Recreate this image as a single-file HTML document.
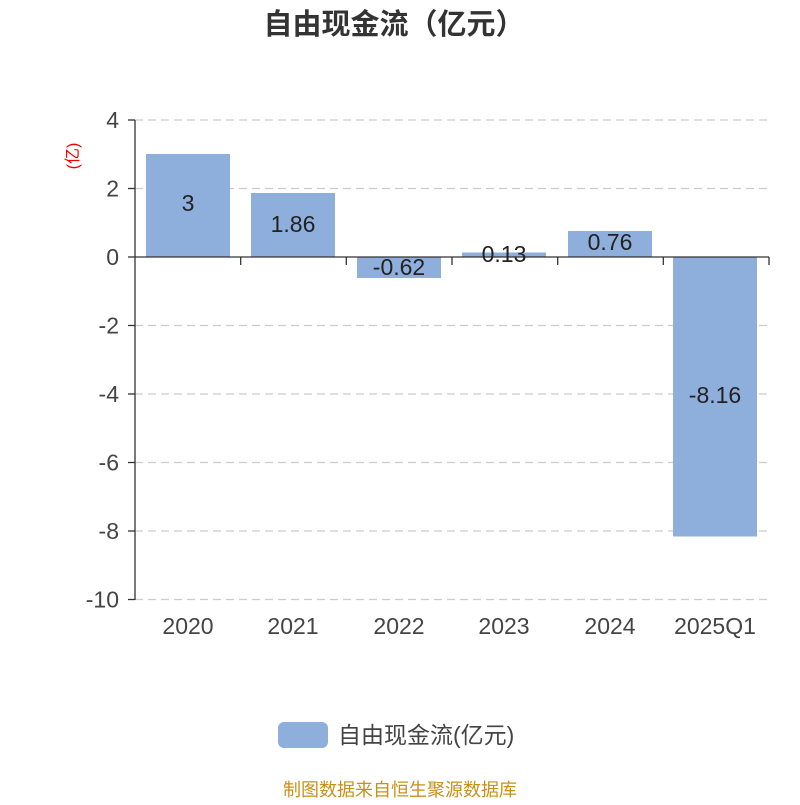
<!DOCTYPE html>
<html><head><meta charset="utf-8"><style>
body{margin:0;background:#fff;}
svg text{font-family:"Liberation Sans","Noto Sans CJK SC",sans-serif;}
</style></head><body>
<svg width="800" height="800" xmlns="http://www.w3.org/2000/svg">
<rect width="800" height="800" fill="#fff"/>
<text x="394" y="34" text-anchor="middle" font-size="29" font-weight="bold" fill="#333">自由现金流（亿元）</text>
<text x="74" y="156" font-size="16" fill="#e00" transform="rotate(-90 74 156)" text-anchor="middle" dominant-baseline="middle">(亿)</text>
<g stroke="#ccc" stroke-dasharray="8,5" stroke-width="1.3">
<line x1="135" y1="120" x2="769" y2="120"/>
<line x1="135" y1="188.5" x2="769" y2="188.5"/>
<line x1="135" y1="325.5" x2="769" y2="325.5"/>
<line x1="135" y1="394" x2="769" y2="394"/>
<line x1="135" y1="462.5" x2="769" y2="462.5"/>
<line x1="135" y1="531" x2="769" y2="531"/>
<line x1="135" y1="599.5" x2="769" y2="599.5"/>
</g>
<g fill="#8eaedb">
<rect x="146" y="154" width="84" height="103"/>
<rect x="251" y="193" width="84" height="64"/>
<rect x="357" y="257" width="84" height="21"/>
<rect x="462" y="252.5" width="84" height="4.5"/>
<rect x="568" y="231" width="84" height="26"/>
<rect x="673" y="257" width="84" height="279.5"/>
</g>
<g stroke="#333" stroke-width="1.3">
<line x1="135" y1="120" x2="135" y2="600"/>
<line x1="128" y1="120" x2="135" y2="120"/>
<line x1="128" y1="188.5" x2="135" y2="188.5"/>
<line x1="128" y1="257" x2="135" y2="257"/>
<line x1="128" y1="325.5" x2="135" y2="325.5"/>
<line x1="128" y1="394" x2="135" y2="394"/>
<line x1="128" y1="462.5" x2="135" y2="462.5"/>
<line x1="128" y1="531" x2="135" y2="531"/>
<line x1="128" y1="599.5" x2="135" y2="599.5"/>
<line x1="135" y1="257" x2="769" y2="257"/>
<line x1="240.7" y1="257" x2="240.7" y2="265"/>
<line x1="346.3" y1="257" x2="346.3" y2="265"/>
<line x1="452" y1="257" x2="452" y2="265"/>
<line x1="557.7" y1="257" x2="557.7" y2="265"/>
<line x1="663.3" y1="257" x2="663.3" y2="265"/>
<line x1="769" y1="257" x2="769" y2="265"/>
</g>
<g font-size="23" fill="#444" text-anchor="end">
<text x="119" y="128">4</text><text x="119" y="196.5">2</text><text x="119" y="265">0</text>
<text x="119" y="333.5">-2</text><text x="119" y="402">-4</text><text x="119" y="470.5">-6</text>
<text x="119" y="539">-8</text><text x="119" y="607.5">-10</text>
</g>
<g font-size="23" fill="#444" text-anchor="middle">
<text x="188" y="634">2020</text><text x="293" y="634">2021</text><text x="399" y="634">2022</text>
<text x="504" y="634">2023</text><text x="610" y="634">2024</text><text x="715" y="634">2025Q1</text>
</g>
<g font-size="23" fill="#222" text-anchor="middle">
<text x="188" y="211">3</text><text x="293" y="232">1.86</text><text x="399" y="275">-0.62</text>
<text x="504" y="262">0.13</text><text x="610" y="250">0.76</text><text x="715" y="403">-8.16</text>
</g>
<rect x="278" y="722" width="50" height="26" rx="6" fill="#8eaedb"/>
<text x="338" y="743" font-size="23" fill="#444">自由现金流(亿元)</text>
<text x="400" y="796" font-size="18" fill="#c8901a" text-anchor="middle">制图数据来自恒生聚源数据库</text>
</svg>
</body></html>
